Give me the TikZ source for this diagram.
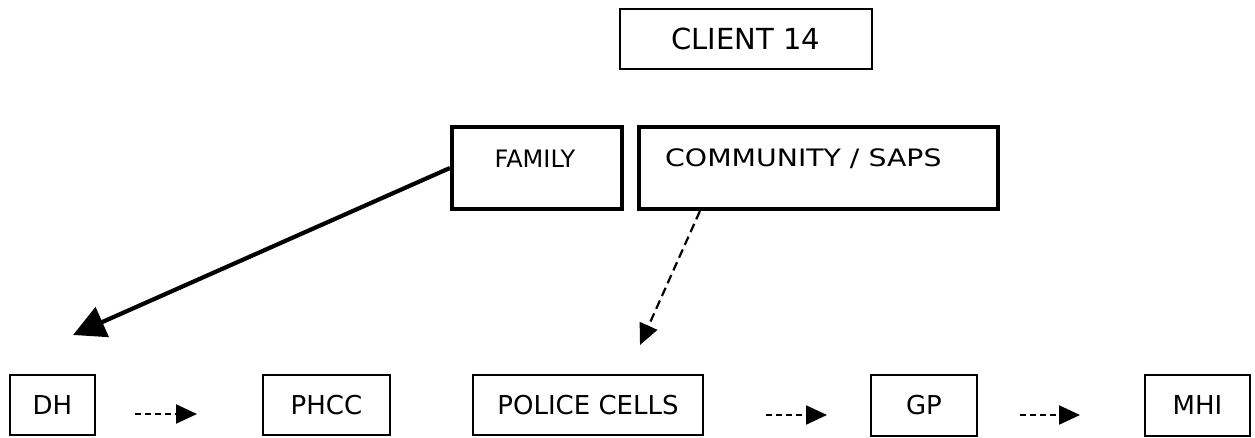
\documentclass[tikz,border=0pt]{standalone}
\usepackage{fontspec}
\setmainfont{DejaVu Sans}
\usepackage{graphicx}
\usetikzlibrary{arrows.meta,calc}
\begin{document}
\begin{tikzpicture}[x=1pt,y=-1pt,
  thinbox/.style={draw, line width=2pt, inner sep=0pt, font=\fontsize{26}{30}\selectfont},
  thickbox/.style={draw, line width=4.2pt, inner sep=0pt},
  lbl/.style={inner sep=0pt, font=\fontsize{24}{28}\selectfont},
  dasharrow/.style={line width=2.2pt, dash pattern=on 6pt off 4pt, -{Triangle[length=21pt,width=19pt]}},
  bigarrow/.style={line width=4.2pt, -{Triangle[length=32pt,width=32pt]}}]
\useasboundingbox (0,0) rectangle (1255,438);
\node[thinbox, minimum width=252pt, minimum height=60pt, font=\fontsize{29}{32}\selectfont] (client) at (746,39) {CLIENT 14};
\node[thickbox, minimum width=170pt, minimum height=82pt] (fam) at (537,168) {};
\node[thickbox, minimum width=359pt, minimum height=82pt] (comm) at (818.5,168) {};
\node[lbl] (famlbl) at (535,158.5) {FAMILY};
\node[lbl, anchor=west] (commlbl) at (665,158.5) {\scalebox{1.18}[1]{COMMUNITY / SAPS}};
\node[thinbox, minimum width=85pt, minimum height=60pt] (dh) at (52.5,405) {DH};
\node[thinbox, minimum width=127pt, minimum height=60pt] (phcc) at (326.5,405) {PHCC};
\node[thinbox, minimum width=230pt, minimum height=60pt] (pc) at (588,405) {POLICE CELLS};
\node[thinbox, minimum width=106pt, minimum height=61pt] (gp) at (924,405.5) {GP};
\node[thinbox, minimum width=105pt, minimum height=61pt] (mhi) at (1197.5,405.5) {MHI};
\coordinate (famtip) at (73,335);
\coordinate (commstart) at ($(comm.south west)+(63,0)$);
\coordinate (commtip) at (640,345);
\coordinate (a1s) at (135,414);
\coordinate (a1e) at (197,414);
\coordinate (a2s) at (766,415);
\coordinate (a2e) at (827,415);
\coordinate (a3s) at (1020,415);
\coordinate (a3e) at (1080,415);
\draw[bigarrow] (fam.west) -- (famtip);
\draw[dasharrow, dash pattern=on 9pt off 5pt] (commstart) -- (commtip);
\draw[dasharrow] (a1s) -- (a1e);
\draw[dasharrow] (a2s) -- (a2e);
\draw[dasharrow] (a3s) -- (a3e);
\end{tikzpicture}
\end{document}
